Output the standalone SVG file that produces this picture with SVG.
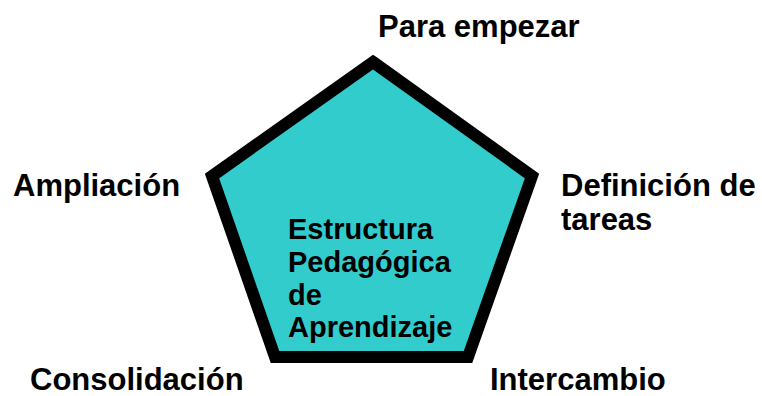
<svg xmlns="http://www.w3.org/2000/svg" width="762" height="396" viewBox="0 0 762 396">
<style>
.lbl{font-family:"Liberation Sans",Arial,sans-serif;font-weight:bold;font-size:31px;fill:#000}
.in{font-family:"Liberation Sans",Arial,sans-serif;font-weight:bold;font-size:29px;fill:#000}
</style>
<rect width="762" height="396" fill="#fff"/>
<g id="pentagon">
<polygon points="373,62 532,176 468,357 275,357 212,176" fill="#33CCCC" stroke="#000" stroke-width="12" stroke-linejoin="miter"/>
<text class="in" x="288" y="239">Estructura</text>
<text class="in" x="288" y="272">Pedagógica</text>
<text class="in" x="288" y="305">de</text>
<text class="in" x="288" y="337">Aprendizaje</text>
</g>
<g id="para-empezar"><text class="lbl" x="378" y="37">Para empezar</text></g>
<g id="definicion"><text class="lbl" x="561" y="196">Definición de</text><text class="lbl" x="561" y="230">tareas</text></g>
<g id="intercambio"><text class="lbl" x="490" y="390">Intercambio</text></g>
<g id="consolidacion"><text class="lbl" x="30" y="390">Consolidación</text></g>
<g id="ampliacion"><text class="lbl" x="13" y="196">Ampliación</text></g>
<g id="connectors"></g>
</svg>
